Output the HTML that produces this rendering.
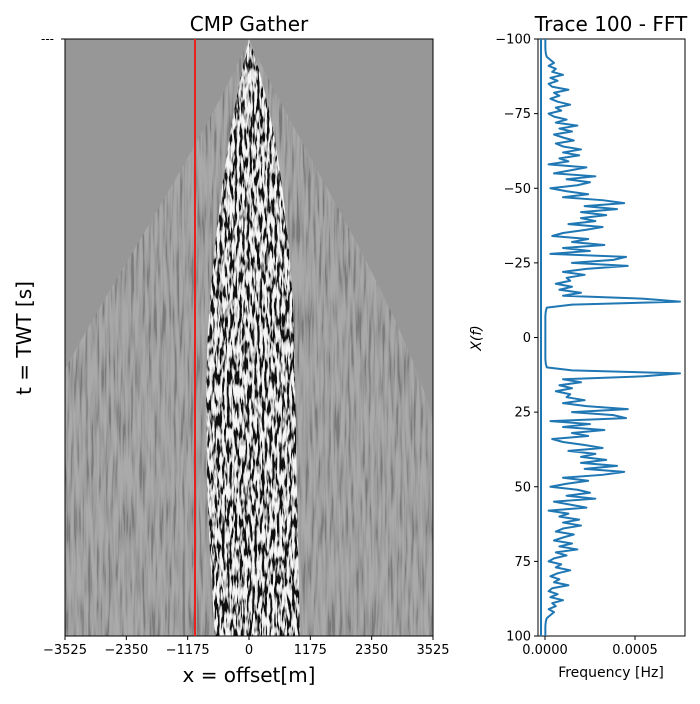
<!DOCTYPE html>
<html><head><meta charset="utf-8"><style>
body{margin:0;background:#fff;font-family:"DejaVu Sans","Liberation Sans",sans-serif;}
svg text{font-family:"DejaVu Sans","Liberation Sans",sans-serif;fill:#000}
</style></head><body>
<svg id="chart" width="700" height="700" viewBox="0 0 700 700">
<defs>
<filter id="noise" x="0" y="0" width="100%" height="100%">
<feTurbulence type="fractalNoise" baseFrequency="0.4 0.07" numOctaves="2" seed="3"/>
<feColorMatrix type="matrix" values="6 0 0 0 -2.5  6 0 0 0 -2.5  6 0 0 0 -2.5  0 0 0 0 1"/>
</filter>
<filter id="noise2" x="0" y="0" width="100%" height="100%">
<feTurbulence type="fractalNoise" baseFrequency="0.35 0.02" numOctaves="2" seed="8"/>
<feColorMatrix type="matrix" values="3 0 0 0 -0.9  3 0 0 0 -0.9  3 0 0 0 -0.9  0 0 0 0 1"/>
</filter>
<clipPath id="clipL"><rect x="65" y="39" width="368" height="597"/></clipPath>
<clipPath id="core"><path d="M249,39 C230,120 215,220 208,330 C203,450 210,560 215,636 L300,636 C298,540 296,430 294,330 C290,220 275,110 249,39Z"/></clipPath>
<clipPath id="outer"><path d="M249,39 C200,150 100,300 65,370 L65,636 L433,636 L433,420 C400,300 300,150 249,39Z"/></clipPath>
</defs>
<g clip-path="url(#clipL)">
<rect x="65" y="39" width="368" height="597" fill="#979797"/>
<g clip-path="url(#outer)" opacity="0.18"><rect x="65" y="39" width="368" height="597" filter="url(#noise2)"/></g>
<g clip-path="url(#core)" opacity="0.9"><rect x="65" y="39" width="368" height="597" filter="url(#noise)"/></g>
</g>
<rect x="65" y="39" width="368" height="597" fill="none" stroke="#000" stroke-width="1"/>
<line x1="195" y1="39" x2="195" y2="636" stroke="#e8211c" stroke-width="2"/>
<text x="249" y="31" font-size="20" text-anchor="middle">CMP Gather</text>
<text x="249" y="682" font-size="20" text-anchor="middle">x = offset[m]</text>
<text transform="translate(31,338) rotate(-90)" font-size="20" text-anchor="middle">t = TWT [s]</text>
<line x1="61" y1="39" x2="65" y2="39" stroke="#000"/>
<text x="41" y="43" font-size="12">---</text>
<g id="xticksL"></g>
<g id="right"></g>
<text x="611" y="31" font-size="20" text-anchor="middle">Trace 100 - FFT</text>
<text x="611" y="677" font-size="14" text-anchor="middle">Frequency [Hz]</text>
<text transform="translate(481,338) rotate(-90)" font-size="14" text-anchor="middle" font-style="italic">X(f)</text>
</svg>
<script>
const offsetTicks=[-3525,-2350,-1175,0,1175,2350,3525];
const freqTicks=[-100,-75,-50,-25,0,25,50,75,100];
const ampTicks=[0,0.0005];
const ampTickLabels=["0.0000","0.0005"];
// amplitude (x1e-4) at f = 0..100 Hz (spectrum mirrored for negative f)
const amps=[0.02,0.02,0.02,0.02,0.02,0.02,0.02,0.02,0.03,0.05,0.1,1.5,7.5,5.5,1.0,2.0,0.8,1.5,0.6,1.4,1.2,2.2,1.0,2.3,4.6,1.5,3.8,4.5,0.3,2.5,1.0,3.3,1.5,2.4,0.4,1.0,2.2,3.2,1.3,2.8,2.0,3.4,2.0,4.0,2.2,4.4,3.2,1.0,2.4,1.2,0.3,1.8,2.5,1.2,2.8,0.5,1.4,2.3,0.2,1.3,0.8,1.9,1.0,2.0,1.0,0.6,1.6,1.0,0.5,1.5,0.8,1.8,0.6,1.2,0.5,0.2,0.9,0.6,1.4,0.7,0.3,0.8,0.5,1.3,0.4,0.2,0.7,0.3,1.0,0.4,0.6,0.2,0.5,0.3,0.1,0.05,0.03,0.02,0.02,0.02,0.02];
const NS="http://www.w3.org/2000/svg";
function el(t,a,p){const e=document.createElementNS(NS,t);for(const k in a)e.setAttribute(k,a[k]);p.appendChild(e);return e;}
const xL=v=>65+(v+3525)/7050*368;
const gx=document.getElementById('xticksL');
offsetTicks.forEach(v=>{
  const l=el('line',{x1:xL(v),y1:636,x2:xL(v),y2:640,stroke:'#000'},gx);
  
  
  const t=el('text',{x:xL(v),y:654,'font-size':13,'text-anchor':'middle'},gx);
  t.textContent=(v<0?'\u2212'+(-v):v);
  
  
});
const R={x0:538,x1:685,y0:39,y1:636};
const xR=a=>545+a/0.0005*90;
const yR=f=>R.y0+(f+100)/200*(R.y1-R.y0);
const gr=document.getElementById('right');
const fr=el('rect',{x:R.x0,y:R.y0,width:R.x1-R.x0,height:R.y1-R.y0,fill:'#fff',stroke:'#000'},gr);


const bl=el('line',{x1:541,y1:R.y0,x2:541,y2:R.y1,stroke:'#1f77b4','stroke-width':2},gr);


let pts=[];
for(let i=amps.length-1;i>=0;i--)pts.push(xR(amps[i]*1e-4)+','+yR(-i));
for(let i=1;i<amps.length;i++)pts.push(xR(amps[i]*1e-4)+','+yR(i));
const ln=el('polyline',{points:pts.join(' '),fill:'none',stroke:'#1f77b4','stroke-width':2,'stroke-linejoin':'round'},gr);


freqTicks.forEach(f=>{
  const l=el('line',{x1:R.x0-4,y1:yR(f),x2:R.x0,y2:yR(f),stroke:'#000'},gr);
  
  
  const t=el('text',{x:R.x0-7,y:yR(f)+4.5,'font-size':13,'text-anchor':'end'},gr);
  t.textContent=(f<0?'\u2212'+(-f):f);
  
  
});
ampTicks.forEach((a,i)=>{
  const l=el('line',{x1:xR(a),y1:R.y1,x2:xR(a),y2:R.y1+4,stroke:'#000'},gr);
  
  
  const t=el('text',{x:xR(a),y:654,'font-size':13,'text-anchor':'middle'},gr);
  t.textContent=ampTickLabels[i];
  
  
});
</script>
</body></html>
